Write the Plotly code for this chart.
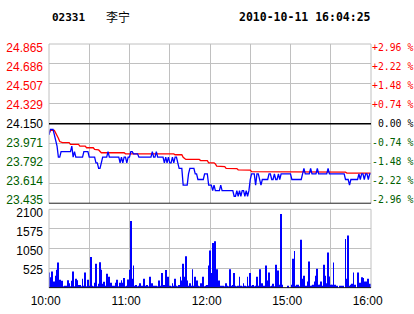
import plotly.graph_objects as go

# ---------------- data ----------------
code = "02331"
name = "李宁"
stamp = "2010-10-11 16:04:25"
prev_close = 24.150

price_ticks = [23.435, 23.614, 23.792, 23.971, 24.150, 24.329, 24.507, 24.686, 24.865]
price_tick_text = ["23.435", "23.614", "23.792", "23.971", "24.150", "24.329", "24.507", "24.686", "24.865"]
pct_tick_text = ["-2.96 %", "-2.22 %", "-1.48 %", "-0.74 %", "\u00a00.00 %", "+0.74 %", "+1.48 %", "+2.22 %", "+2.96 %"]
vol_ticks = [0, 525, 1050, 1575, 2100]
vol_tick_text = ["", "525", "1050", "1575", "2100"]
time_ticks = [0, 30, 60, 90, 120, 150, 180, 210, 240]
time_tick_text = ["10:00", "", "11:00", "", "12:00", "", "15:00", "", "16:00"]

# minute-by-minute last price (10:00-12:30, 14:30-16:00)
price = [
    24.05, 24.10, 24.10, 24.10, 24.05, 24.00, 23.95, 23.85, 23.85, 23.90,
    23.90, 23.90, 23.90, 23.90, 23.90, 23.90, 23.90, 23.95, 23.85, 23.90,
    23.85, 23.85, 23.85, 23.85, 23.85, 23.85, 23.90, 23.90, 23.90, 23.90,
    23.85, 23.85, 23.85, 23.85, 23.85, 23.80, 23.80, 23.75, 23.75, 23.80,
    23.85, 23.85, 23.85, 23.85, 23.90, 23.85, 23.85, 23.85, 23.85, 23.85,
    23.85, 23.85, 23.85, 23.80, 23.85, 23.80, 23.85, 23.85, 23.80, 23.85,
    23.85, 23.90, 23.90, 23.88, 23.88, 23.88, 23.88, 23.85, 23.85, 23.85,
    23.85, 23.85, 23.85, 23.85, 23.85, 23.85, 23.85, 23.90, 23.85, 23.85,
    23.90, 23.85, 23.85, 23.85, 23.85, 23.85, 23.80, 23.85, 23.80, 23.85,
    23.80, 23.80, 23.85, 23.80, 23.85, 23.85, 23.80, 23.75, 23.75, 23.75,
    23.60, 23.60, 23.60, 23.60, 23.70, 23.75, 23.75, 23.75, 23.75, 23.70,
    23.70, 23.65, 23.65, 23.65, 23.65, 23.65, 23.70, 23.70, 23.70, 23.60,
    23.60, 23.60, 23.55, 23.60, 23.55, 23.55, 23.55, 23.55, 23.60, 23.55,
    23.55, 23.55, 23.55, 23.55, 23.55, 23.55, 23.55, 23.55, 23.50, 23.50,
    23.55, 23.50, 23.55, 23.50, 23.55, 23.55, 23.50, 23.55, 23.50, 23.55,
    23.65, 23.70, 23.70, 23.70, 23.60, 23.70, 23.70, 23.65, 23.60, 23.65,
    23.65, 23.65, 23.65, 23.65, 23.70, 23.70, 23.65, 23.65, 23.70, 23.65,
    23.65, 23.70, 23.65, 23.70, 23.70, 23.70, 23.70, 23.70, 23.70, 23.70,
    23.70, 23.65, 23.65, 23.65, 23.65, 23.65, 23.65, 23.65, 23.65, 23.70,
    23.75, 23.70, 23.70, 23.70, 23.70, 23.75, 23.70, 23.70, 23.70, 23.70,
    23.75, 23.70, 23.70, 23.70, 23.70, 23.70, 23.70, 23.70, 23.75, 23.70,
    23.70, 23.70, 23.70, 23.70, 23.70, 23.70, 23.70, 23.70, 23.70, 23.70,
    23.70, 23.65, 23.65, 23.65, 23.60, 23.65, 23.65, 23.65, 23.65, 23.65,
    23.65, 23.70, 23.65, 23.70, 23.70, 23.65, 23.70, 23.70, 23.65, 23.70, 23.70,
]

# average price line, read at the minutes where it changes
avg_minutes = [0, 1, 4, 5, 7, 8, 10, 15, 16, 22, 23, 27, 28, 33, 34, 37, 38, 39,
               56, 57, 93, 94, 99, 100, 102, 112, 113, 118, 119, 123, 124, 125,
               131, 132, 140, 141, 150, 151, 180, 221, 222, 240]
avg_values = [24.06, 24.09, 24.09, 24.07, 24.02, 23.99, 23.98, 23.98, 23.965, 23.965,
              23.95, 23.95, 23.935, 23.935, 23.92, 23.915, 23.90, 23.89,
              23.89, 23.88, 23.88, 23.872, 23.872, 23.85, 23.83, 23.83, 23.82, 23.82,
              23.80, 23.80, 23.79, 23.77, 23.765, 23.75, 23.748, 23.737, 23.735,
              23.72, 23.718, 23.716, 23.708, 23.707]

volume = [
    415, 290, 440, 90, 175, 330, 485, 680, 220, 60,
    195, 40, 60, 60, 210, 130, 50, 195, 440, 50,
    245, 210, 80, 80, 40, 245, 60, 415, 50, 220,
    60, 825, 60, 40, 140, 645, 50, 115, 690, 485,
    115, 170, 60, 380, 170, 300, 140, 40, 60, 60,
    140, 220, 40, 140, 210, 140, 265, 40, 60, 230,
    485, 1790, 245, 600, 60, 80, 40, 60, 130, 60,
    40, 250, 60, 80, 40, 300, 60, 130, 60, 40,
    60, 40, 200, 60, 400, 60, 80, 480, 60, 300,
    60, 40, 130, 60, 250, 60, 40, 80, 300, 200,
    650, 300, 850, 200, 60, 130, 60, 500, 60, 300,
    200, 60, 40, 130, 60, 300, 40, 60, 80, 600,
    1000, 400, 1200, 200, 1250, 500, 60, 200, 60, 40,
    60, 40, 130, 60, 40, 500, 60, 80, 400, 60,
    40, 60, 300, 60, 40, 130, 60, 40, 300, 60,
    400, 60, 80, 40, 60, 300, 60, 500, 60, 130,
    60, 40, 600, 200, 415, 40, 60, 115, 40, 620,
    175, 470, 90, 1975, 90, 0, 0, 0, 60, 0,
    0, 90, 780, 990, 60, 90, 90, 40, 1285, 245,
    330, 60, 60, 175, 710, 60, 60, 90, 175, 330,
    515, 90, 90, 175, 60, 620, 330, 130, 945, 310,
    90, 90, 680, 90, 60, 60, 0, 60, 60, 60,
    0, 1310, 245, 1400, 60, 90, 115, 415, 90, 0,
    415, 90, 140, 290, 265, 175, 175, 130, 245, 115, 100,
]

minutes = list(range(len(price)))

# ---------------- styling ----------------
RED = "#ff0000"
GREEN = "#006000"
BLACK = "#000000"
GRID = "#c0c0c0"
SANS = "Liberation Sans, Arial, sans-serif"
MONO = "DejaVu Sans Mono, monospace"


def colour_for(v):
    if v > prev_close:
        return RED
    if v < prev_close:
        return GREEN
    return BLACK


left_text = ['<span style="color:%s">%s</span>' % (colour_for(v), t)
             for v, t in zip(price_ticks, price_tick_text)]
right_text = ['<span style="color:%s">%s</span>' % (colour_for(v), t)
              for v, t in zip(price_ticks, pct_tick_text)]

prange = [price_ticks[0], price_ticks[-1]]
# label axes: the labels sit slightly inside the panel at both ends
span = prange[1] - prange[0]
plabel_range = [prange[0] - span * (4.0 / 151.5), prange[1] + span * (4.0 / 151.5)]
vlabel_range = [vol_ticks[0] + 27.6, vol_ticks[-1] + 110.5]
pdom = [0.3463, 1.0]
vdom = [0, 0.3225]

fig = go.Figure()
fig.add_trace(go.Scatter(x=avg_minutes, y=avg_values, mode="lines",
                         line=dict(color=RED, width=1.3), xaxis="x", yaxis="y",
                         hoverinfo="skip"))
fig.add_trace(go.Scatter(x=minutes, y=price, mode="lines",
                         line=dict(color="#0000ff", width=1.3), xaxis="x", yaxis="y",
                         hoverinfo="skip"))
fig.add_trace(go.Bar(x=minutes, y=volume, marker=dict(color="#0000ff", line=dict(width=0)),
                     xaxis="x2", yaxis="y2", hoverinfo="skip"))
# empty traces so that the label-only axes are drawn
for ax_x, ax_y in (("x", "y3"), ("x", "y4"), ("x2", "y5")):
    fig.add_trace(go.Scatter(x=[], y=[], xaxis=ax_x, yaxis=ax_y, hoverinfo="skip"))

fig.update_layout(
    width=414, height=314, margin=dict(l=49, r=43, t=44, b=26, autoexpand=False),
    paper_bgcolor="white", plot_bgcolor="white", showlegend=False, bargap=0.35,
    xaxis=dict(domain=[0, 1], range=[0, 240], anchor="y", tickmode="array",
               tickvals=time_ticks, showticklabels=False, ticks="", automargin=False,
               showgrid=True, gridcolor=GRID, gridwidth=1, zeroline=False),
    xaxis2=dict(domain=[0, 1], range=[0, 240], anchor="y2", tickmode="array",
                tickvals=time_ticks,
                ticktext=[t + "\u00a0\u00a0" if t else t for t in time_tick_text],
                ticks="", ticklabelstandoff=4, automargin=False,
                tickfont=dict(family=SANS, size=12, color=BLACK),
                showgrid=True, gridcolor=GRID, gridwidth=1, zeroline=False),
    yaxis=dict(domain=pdom, range=prange, anchor="x", tickmode="array",
               tickvals=price_ticks, showticklabels=False, ticks="", automargin=False,
               showgrid=True, gridcolor=GRID, gridwidth=1, zeroline=False),
    yaxis4=dict(range=plabel_range, overlaying="y", anchor="x", side="left",
                tickmode="array", tickvals=price_ticks, ticktext=left_text,
                automargin=False, tickfont=dict(family=SANS, size=12, color=BLACK),
                ticks="", ticklabelstandoff=5, showgrid=False, zeroline=False),
    yaxis3=dict(range=plabel_range, overlaying="y", anchor="x", side="right",
                tickmode="array", tickvals=price_ticks, ticktext=right_text,
                automargin=False, tickfont=dict(family=MONO, size=9.8, color=BLACK),
                ticks="", ticklabelstandoff=0, showgrid=False, zeroline=False),
    yaxis2=dict(domain=vdom, range=[0, vol_ticks[-1]], anchor="x2",
                tickmode="array", tickvals=vol_ticks, showticklabels=False, ticks="",
                showgrid=True, gridcolor=GRID, gridwidth=1, zeroline=False,
                automargin=False),
    yaxis5=dict(range=vlabel_range, overlaying="y2", anchor="x2", side="left",
                tickmode="array", tickvals=vol_ticks, ticktext=vol_tick_text,
                tickfont=dict(family=SANS, size=12, color=BLACK), ticks="",
                ticklabelstandoff=5, showgrid=False, zeroline=False, automargin=False),
)

# panel frames and reference lines
fig.add_shape(type="rect", xref="x domain", yref="y domain", x0=0, x1=1, y0=0, y1=1,
              line=dict(color=GRID, width=1))
fig.add_shape(type="rect", xref="x2 domain", yref="y2 domain", x0=0, x1=1, y0=0, y1=1,
              line=dict(color=GRID, width=1))
fig.add_shape(type="line", xref="x domain", yref="y", x0=0, x1=1,
              y0=prev_close, y1=prev_close, line=dict(color=BLACK, width=1.3))
fig.add_shape(type="line", xref="x domain", yref="y", x0=0, x1=1,
              y0=price_ticks[0], y1=price_ticks[0], line=dict(color=BLACK, width=1.6))
fig.add_shape(type="line", xref="x2 domain", yref="y2", x0=0, x1=1,
              y0=0, y1=0, line=dict(color=BLACK, width=1.6))

# header
fig.add_annotation(text="<b>" + code + "</b>", xref="paper", yref="paper",
                   x=(50 - 49) / 322, y=(288 - 17) / 244, xanchor="left", yanchor="middle",
                   showarrow=False, font=dict(family=MONO, size=11, color=BLACK))
fig.add_annotation(text=name, xref="paper", yref="paper",
                   x=(104 - 49) / 322, y=(288 - 16) / 244, xanchor="left", yanchor="middle",
                   showarrow=False, font=dict(family="Noto Sans CJK SC", size=12, color=BLACK))
fig.add_annotation(text="<b>" + stamp + "</b>", xref="paper", yref="paper",
                   x=(237 - 49) / 322, y=(288 - 17) / 244, xanchor="left", yanchor="middle",
                   showarrow=False, font=dict(family=MONO, size=11.5, color=BLACK))

fig.write_html("out.html")
